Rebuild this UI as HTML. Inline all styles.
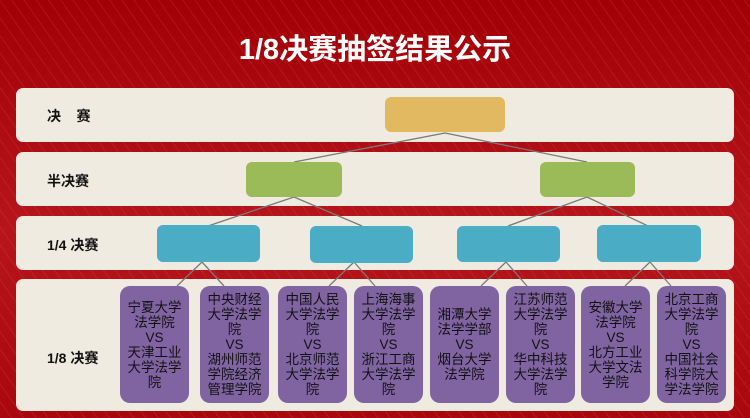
<!DOCTYPE html>
<html><head><meta charset="utf-8"><style>
*{margin:0;padding:0;box-sizing:border-box}
body{width:750px;height:418px;overflow:hidden;position:relative;font-family:"Liberation Sans","Noto Sans CJK SC",sans-serif;
background:linear-gradient(180deg,#a00006 0%,#b5151b 55%,#a8080d 100%);}
.stripes{position:absolute;inset:0;background:repeating-linear-gradient(55deg,transparent 0 9px,rgba(255,90,90,.18) 9px 10px);}
h1{position:absolute;left:0;width:750px;top:26px;text-align:center;color:#fff;font-size:29px;font-weight:bold;font-family:"Liberation Sans","Noto Sans CJK SC",sans-serif;letter-spacing:0}
.band{position:absolute;left:16px;width:718px;background:#efebe1;border-radius:7px}
.lab{position:absolute;left:47px;font-size:14px;font-weight:bold;color:#111}
.b{position:absolute;border-radius:6px}
.p{position:absolute;top:286px;height:117px;width:69px;background:#8064a2;border-radius:10px;color:#111;font-size:13.5px;line-height:15px;text-align:center;display:flex;align-items:center;justify-content:center;white-space:nowrap}
svg{position:absolute;left:0;top:0}
</style></head><body>
<div class="stripes"></div>
<h1>1/8决赛抽签结果公示</h1>
<div class="band" style="top:88px;height:54px"></div>
<div class="band" style="top:152px;height:54px"></div>
<div class="band" style="top:216px;height:54px"></div>
<div class="band" style="top:279px;height:132px"></div>
<div class="lab" style="top:106px;letter-spacing:0">决&nbsp;&nbsp;&nbsp;&nbsp;赛</div>
<div class="lab" style="top:171px">半决赛</div>
<div class="lab" style="top:235px">1/4 决赛</div>
<div class="lab" style="top:348px">1/8 决赛</div>
<svg width="750" height="418"><g stroke="#7a7a7a" stroke-width="1.3" fill="none">
<path d="M445 133 L294 162 M445 133 L587 162"/>
<path d="M294 197 L208 226 M294 197 L362 226 M587 197 L508 226 M587 197 L648 226"/>
<path d="M202 262 L177 286 M202 262 L224 286 M354 262 L329 286 M354 262 L375 286 M506 262 L481 286 M506 262 L527 286 M650 262 L625 286 M650 262 L671 286"/>
</g></svg>
<div class="b" style="left:385px;top:97px;width:120px;height:35px;background:#e2b960"></div>
<div class="b" style="left:246px;top:162px;width:96px;height:35px;background:#9bbb59"></div>
<div class="b" style="left:540px;top:162px;width:95px;height:35px;background:#9bbb59"></div>
<div class="b" style="left:157px;top:225px;width:103px;height:37px;background:#4bacc6"></div>
<div class="b" style="left:310px;top:226px;width:103px;height:37px;background:#4bacc6"></div>
<div class="b" style="left:457px;top:226px;width:103px;height:36px;background:#4bacc6"></div>
<div class="b" style="left:597px;top:225px;width:104px;height:37px;background:#4bacc6"></div>
<div class="p" style="left:120px"><div>宁夏大学<br>法学院<br>VS<br>天津工业<br>大学法学<br>院</div></div>
<div class="p" style="left:200px"><div>中央财经<br>大学法学<br>院<br>VS<br>湖州师范<br>学院经济<br>管理学院</div></div>
<div class="p" style="left:278px"><div>中国人民<br>大学法学<br>院<br>VS<br>北京师范<br>大学法学<br>院</div></div>
<div class="p" style="left:354px"><div>上海海事<br>大学法学<br>院<br>VS<br>浙江工商<br>大学法学<br>院</div></div>
<div class="p" style="left:430px"><div>湘潭大学<br>法学学部<br>VS<br>烟台大学<br>法学院</div></div>
<div class="p" style="left:506px"><div>江苏师范<br>大学法学<br>院<br>VS<br>华中科技<br>大学法学<br>院</div></div>
<div class="p" style="left:581px"><div>安徽大学<br>法学院<br>VS<br>北方工业<br>大学文法<br>学院</div></div>
<div class="p" style="left:657px"><div>北京工商<br>大学法学<br>院<br>VS<br>中国社会<br>科学院大<br>学法学院</div></div>
</body></html>
